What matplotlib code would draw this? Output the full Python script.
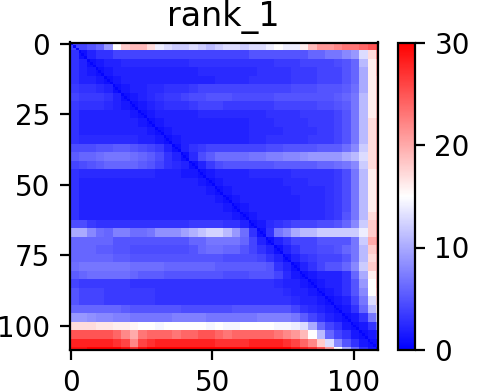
import matplotlib
matplotlib.use('Agg')
import matplotlib.pyplot as plt
import numpy as np

title = 'rank_1'
x_ticks = [0, 50, 100]
y_ticks = [0, 25, 50, 75, 100]
cbar_ticks = [0, 10, 20, 30]
n_res = 109
block = 3

# pae values, one entry per 3x3 residues
pae_blocks = [
    [4,4,5,6,9,15,18,19,19,17,14,13,12,12,13,12,11,12,13,13,12,13,13,14,15,14,14,16,19,21,21,22,23,23,24,25,26],
    [3,1,2,3,3,4,4,4,4,4,4,4,4,4,4,4,4,4,4,4,4,5,5,5,5,5,5,5,6,6,7,7,8,9,13,17,22],
    [3,2,1,1.5,2,2,2.5,2.5,2.5,2.5,2.5,2.5,2.5,2.5,3,3,3,3,3,3,3,3,3,3,3.5,3.5,3.5,4,4,4,4,4.5,5,6,11,16,20],
    [3,2,1.5,1,1.5,2,2,2,2,2,2,2,2,2,2,2.5,2.5,2.5,2.5,2.5,2.5,2.5,3,3,3,3,3.5,3.5,3.5,4,4,4,5,6,10,16,20],
    [3,2,2,1.5,1,1.5,2,2,2,2,2,2,2,2,2,2,2,2.5,2.5,2.5,2.5,3,3,3,3,3,3.5,3.5,3.5,4,4,4,5,6,10,16,19],
    [3.5,3,3,2.5,2,1,1.5,2,2,2.5,2.5,3,3,3,3.5,4,4,4,4,4,4,4,4,4,4,4,4.5,4.5,4.5,5,5,5,5.5,6.5,10,16,19],
    [4,3.5,3.5,3.5,3,2,1,1.5,2,2.5,3,3.5,3.5,4,4.5,4.5,5,5,5,4.5,4.5,4.5,4.5,4.5,5,5,5,5,5,5,5,5.5,6,7,11,16,19],
    [3.5,3,3,3,2.5,2,1.5,1,1.5,2,2.5,3,3,3,3.5,4,4,4,3.5,3.5,3.5,3.5,3.5,3.5,4,4,4,4,4,4.5,4.5,5,5.5,7,11,16,19],
    [3,2,2,2,2,2,2,1.5,1,1.5,2,2,2,2,2,2.5,2.5,2.5,2.5,2.5,2.5,2.5,2.5,3,3,3,3,3.5,3.5,3.5,3.5,4,5,7,11,16,19],
    [3,2,2,2,2,2,2,2,1.5,1,1.5,2,2,2,2,2,2,2,2,2,2,2.5,2.5,2.5,3,3,3,3,3.5,3.5,3.5,4,5,7,11,17,20],
    [3,2,2,2,2,2,2,2,2,1.5,1,1.5,2,2,2,2,2,2,2,2,2,2.5,2.5,2.5,2.5,3,3,3,3,3.5,3.5,4,5,7,11,17,20],
    [3,2.5,2.5,2.5,2.5,2.5,2.5,2.5,2,2,1.5,1,1.5,2,2,2,2,2,2,2,2,2.5,2.5,3,3,3,3,3,3.5,3.5,3.5,4,5,7,11,17,20],
    [4.5,4.5,4.5,5,5,5.5,5.5,5,4.5,4,3.5,2,1,2,3,3.5,4,4,4,4,4,4,4,4.5,4.5,5,5,5,5,5.5,5.5,5.5,6.5,8,12,17,20],
    [5.5,6,6,6.5,7,7,7,6.5,6,5.5,4.5,3,2,1,2.5,4.5,5.5,6.5,6.5,6.5,6.5,7,7,7.5,7.5,8,8,8.5,9,9,9,9,10,11,13,17,20],
    [4,4.5,5,5.5,6,6,6,6,5.5,5,4,3,2.5,2,1,2,3.5,4.5,5,5,5,5,5,5,5.5,5.5,5.5,5.5,5.5,6,6,6.5,7,8,12,17,20],
    [3,2.5,2.5,2.5,2.5,2.5,2.5,2.5,2.5,2.5,2,2,2,1.5,1.5,1,1.5,2,2,2,2,2.5,2.5,2.5,2.5,2.5,3,3,3,3,3,3.5,4.5,7,11,16,19],
    [3,2,2,2,2,2,2,2,2,2,2,2,2,2,2,1.5,1,1.5,2,2,2,2,2,2,2,2.5,2.5,2.5,3,3,3,3.5,4.5,7,11,16,19],
    [3,2,2,2,2,2,2,2,2,2,2,2,2,2,2,2,1.5,1,1.5,2,2,2,2,2,2,2,2.5,2.5,2.5,2.5,3,3.5,4.5,7,11,16,19],
    [3,2,2,2,2,2,2,2,2,2,2,2,2,2,2,2,2,1.5,1,1.5,2,2,2,2,2,2,2,2.5,2.5,2.5,3,3.5,4.5,7,11,16,19],
    [3,2,2,2,2,2,2,2,2,2,2,2,2,2,2,2,2,2,1.5,1,1.5,2,2,2,2,2,2,2.5,2.5,2.5,3,3.5,4.5,7,11,16,19],
    [3,2,2,2,2,2,2,2,2,2,2,2,2,2,2,2,2,2,2,1.5,1,1.5,2,2,2,2,2,2.5,2.5,2.5,3,3.5,5,7,11,17,20],
    [4.5,4.5,3.5,3,3,3,3,3,3,3,3,3,3,3,3.5,3.5,3.5,3.5,3,3,2,1,1.5,2.5,3,3.5,4,4,4,4.5,4.5,5,6,8,12,18,21],
    [10,10,8,6.5,6,7.5,7.5,6.5,6.5,7,8.5,8.5,8.5,9.5,10.5,11.5,12.5,12.5,11,9,6.5,3,1,3,7,8,10,11,11,12,12,12,12,12,14,18,21],
    [6,6,6,6,6,5,5,5,5,5,5,5,5,5,6,6,7,7,7,7,6,4,2,1,2,3,4,4,4,5,5,5,5,7,12,20,22],
    [6,6,6,5.5,5.5,5,5,4.5,4.5,4.5,4.5,4.5,4.5,4.5,5,6,6.5,6.5,6,6,5,4,3,2,1,2,3,4,4,4.5,4.5,5,6,7,11,18,21],
    [6,6,6,6,6,5.5,5.5,5,5,5,5,5,5,5,5,5,5,5,4.5,4.5,4.5,4.5,4,3,2,1,2,3,3.5,4,4,4,5,7,11,17,20],
    [6.5,7,7,7,7,7,7,6.5,6.5,6.5,6.5,6,6,6,6,6,6,5.5,5.5,5.5,5.5,5.5,5.5,5,3,2,1,2,3,4,5,5,6,8,12,18,20],
    [5.5,6,6.5,6.5,6.5,6.5,6.5,6,5.5,5.5,5.5,5,5,5,5,5,5,5,4.5,4.5,4.5,5,5,5,4,2.5,1.5,1,1.5,2,2,2,3,6,10,16,20],
    [4,3.5,3.5,3.5,3.5,3.5,3.5,3,3,3,3,3,3,3,3,3,3,3,3,3,3,3,3,3,2.5,2,2,1.5,1,1.5,2,2,3,5,9,15,20],
    [5,4,4,4,3.5,3.5,3.5,3.5,3.5,3.5,3,3,3,3,3,3,3,3,3,3,3,3,3,3,3,2.5,2,2,1.5,1,1.5,2,3,5,8,15,19],
    [5,4,4,4,3.5,3.5,3.5,3.5,3.5,3.5,3,3,3,3,3,3,3,3,3,3,3,3,3,3,3,3,2.5,2,2,1.5,1,1.5,2,4,7,13,18],
    [6,6,6,6,6,6,5.5,5,5,5,5,5,5,4.5,4.5,4.5,4.5,4.5,4.5,5,5,5,5,5,5,5,4,3,2.5,2,1.5,1,1.5,3,6,11,16],
    [9,9,8.5,8,8,7.5,7.5,7,7,7,7,7,7.5,7.5,7.5,7.5,7,7,7,7,7,7,7.5,7.5,7.5,7.5,7,5.5,4,3,2,1.5,1,1.5,3,7,12],
    [17,17,17,16.5,16.5,16,16,15.5,15,15,14.5,15,15,15,15,15,14.5,15,14.5,14.5,15,15,15,15,14.5,14.5,14,13,10,6,4,3,1.5,1,1.5,3,7],
    [25,25,25,25,25,24,22,20,23,24,24,24,23,24,24,25,25,24,23,24,24,24,24,24,23,22,21,19,15,11,6,4,3,1.5,1,1.5,3],
    [28,28,28,28,28,27,26,22,26,27,28,28,28,28,28,28,28,27,27,27,27,28,28,28,28,27,26,24,22,18,13,8,5,3,1.5,1,1.5],
    [29,29,30,30,30,30,29,27,29,30,30,30,30,30,30,30,30,30,30,30,30,30,30,30,30,30,29,28,27,25,21,15,10,6,3,1.5,1],
]
# exact diagonal is one residue wide and darker than the blocks above
diag_vals = [0.3] * n_res

pae = np.repeat(np.repeat(np.array(pae_blocks, dtype=float), block, axis=0), block, axis=1)[:n_res, :n_res]
pae[np.arange(n_res), np.arange(n_res)] = diag_vals

fig = plt.figure(figsize=(4.78 / 2, 3.92 / 2), dpi=200)
ax = fig.add_axes([69.5 / 478, 1 - 350 / 392, (378 - 69.5) / 478, (350 - 42.5) / 392])
im = ax.imshow(pae, cmap='bwr', vmin=0, vmax=30, aspect='auto', interpolation='nearest')
ax.set_title(title)
ax.set_xticks(x_ticks)
ax.set_yticks(y_ticks)

cax = fig.add_axes([398 / 478, 1 - 350 / 392, 17 / 478, (350 - 42.5) / 392])
cbar = fig.colorbar(im, cax=cax)
cbar.set_ticks(cbar_ticks)

fig.savefig('out.png', dpi=200)
